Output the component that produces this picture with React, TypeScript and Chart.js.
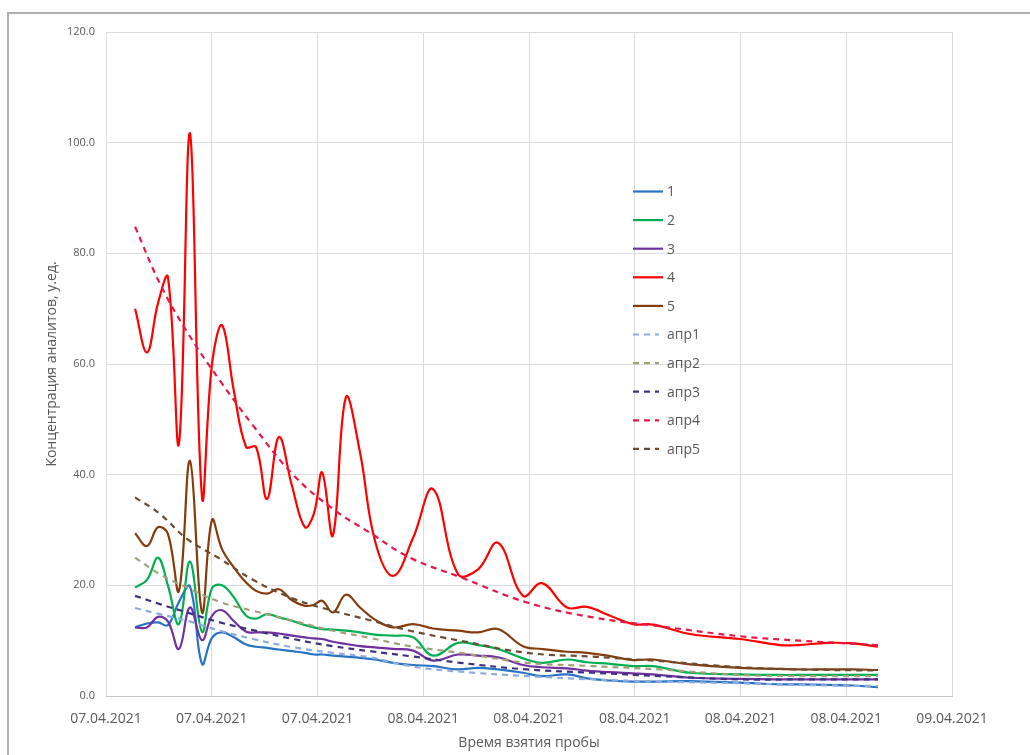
import React, { useEffect, useRef } from 'react';
import { Chart, registerables } from 'chart.js';

Chart.register(...registerables);

// Sample times, hours since 07.04.2021 00:00
const sampleHours = [
  10.92, 11.46, 11.96, 12.41, 12.91, 13.41, 13.96, 14.41, 14.87, 15.41,
  15.96, 16.41, 16.91, 17.45, 18.04, 18.63, 19.04, 19.41, 19.9, 20.49,
  21.13, 21.81, 22.63, 23.54, 24.44, 25.58, 26.49, 27.39, 28.53, 29.39,
  30.53, 31.43, 32.48, 33.52, 34.43, 36.11, 38.38, 40.19, 40.97, 42.33,
  43.51, 44.64,
];

const series1 = [
  12.4, 13.1, 13.3, 12.8, 17.0, 19.8, 5.8, 10.5, 11.5, 10.6,
  9.3, 8.9, 8.7, 8.4, 8.1, 7.8, 7.5, 7.5, 7.3, 7.1,
  6.9, 6.6, 6.0, 5.6, 5.4, 4.8, 5.1, 4.8, 4.2, 3.6,
  3.9, 3.2, 2.8, 2.6, 2.6, 2.7, 2.4, 2.1, 2.1, 2.0,
  1.9, 1.6,
];

const series2 = [
  19.6, 21.0, 25.0, 20.0, 13.0, 24.3, 11.6, 19.5, 20.0, 17.8,
  14.5, 14.0, 14.8, 14.2, 13.6, 12.8, 12.4, 12.1, 12.0, 11.8,
  11.5, 11.1, 10.9, 10.6, 7.3, 9.6, 9.2, 8.5, 6.8, 6.0,
  6.6, 6.1, 5.8, 5.4, 5.4, 4.2, 3.9, 3.8, 3.8, 3.8,
  3.8, 3.8,
];

const series3 = [
  12.4, 12.4, 14.3, 13.5, 8.5, 16.0, 10.1, 14.5, 15.5, 13.5,
  11.6, 11.5, 11.5, 11.3, 10.9, 10.6, 10.4, 10.3, 9.8, 9.4,
  9.0, 8.8, 8.5, 8.2, 6.4, 7.5, 7.3, 7.0, 5.6, 5.2,
  5.0, 4.6, 4.3, 4.1, 3.9, 3.3, 3.1, 3.0, 3.0, 3.0,
  3.0, 3.0,
];

const series4 = [
  70.0, 62.1, 71.0, 75.7, 45.6, 101.7, 35.9, 60.0, 67.0, 55.0,
  45.0, 45.0, 35.6, 46.8, 38.0, 30.5, 33.0, 40.4, 29.0, 54.0,
  44.0, 28.0, 21.7, 28.6, 37.4, 22.0, 22.9, 27.7, 18.1, 20.4,
  16.0, 16.1, 14.5, 13.0, 12.9, 11.2, 10.3, 9.2, 9.2, 9.6,
  9.5, 8.9,
];

const series5 = [
  29.4, 27.1, 30.5, 29.3, 19.0, 42.5, 15.1, 31.8, 26.5, 23.2,
  20.5, 19.0, 18.5, 19.3, 17.3, 16.3, 16.5, 17.2, 15.1, 18.3,
  16.0, 13.8, 12.4, 13.0, 12.2, 11.8, 11.5, 12.1, 9.0, 8.5,
  8.0, 7.8, 7.2, 6.5, 6.6, 5.7, 5.1, 4.9, 4.8, 4.8,
  4.8, 4.7,
];

// Approximation (trend) curves
const fitHours = [
  10.92, 12.05, 13.28, 14.77, 16.27, 18.09, 19.9, 21.58, 23.4, 25.67,
  28.71, 31.71, 34.75, 38.38, 41.1, 44.64,
];
const apr1 = [15.9, 14.8, 13.6, 11.8, 10.3, 8.8, 7.8, 7.0, 5.4, 4.4, 3.6, 3.0, 2.6, 2.3, 2.0, 1.8];
const apr2 = [25.0, 22.0, 19.6, 17.0, 15.4, 13.6, 11.8, 10.5, 9.0, 7.8, 6.0, 5.4, 4.8, 3.8, 3.6, 3.6];
const apr3 = [18.1, 16.6, 15.1, 13.3, 11.9, 10.3, 9.0, 8.1, 7.2, 6.0, 4.8, 4.2, 3.6, 3.0, 3.0, 3.0];
const apr4 = [84.8, 74.5, 65.8, 57.0, 48.9, 40.0, 33.8, 29.5, 25.0, 21.5, 16.9, 14.2, 12.6, 10.8, 10.0, 9.2];
const apr5 = [35.9, 32.9, 28.4, 24.8, 21.0, 17.6, 15.4, 13.7, 11.8, 10.0, 7.8, 7.1, 6.3, 5.2, 4.8, 4.6];

const tickHours = [9.6, 14.4, 19.2, 24, 28.8, 33.6, 38.4, 43.2, 48];
const tickLabels = [
  '07.04.2021', '07.04.2021', '07.04.2021', '08.04.2021', '08.04.2021',
  '08.04.2021', '08.04.2021', '08.04.2021', '09.04.2021',
];
const yTicks = [0, 20, 40, 60, 80, 100, 120];

const seriesNames = ['1', '2', '3', '4', '5'];
const fitNames = ['апр1', 'апр2', 'апр3', 'апр4', 'апр5'];
const yTitle = 'Концентрация аналитов, у.ед.';
const xTitle = 'Время взятия пробы';

const seriesColors = ['#2874c4', '#00b050', '#7030a0', '#ff0000', '#843c0c'];
const fitColors = ['#8faadc', '#a3a07a', '#40307f', '#e8174b', '#6b4c33'];

const FONT = '"Open Sans", "Noto Sans", sans-serif';
const TEXT = '#595959';

const overlayPlugin = {
  id: 'overlay',
  afterDraw(chart: any) {
    const ctx = chart.ctx;
    const area = chart.chartArea;
    ctx.save();
    ctx.fillStyle = TEXT;
    ctx.font = `14px ${FONT}`;
    ctx.textAlign = 'center';
    ctx.textBaseline = 'middle';
    ctx.fillText(xTitle, (area.left + area.right) / 2, 743);
    ctx.save();
    ctx.translate(52, (area.top + area.bottom) / 2);
    ctx.rotate(-Math.PI / 2);
    ctx.fillText(yTitle, 0, 0);
    ctx.restore();

    // legend
    const lx = 633;
    const ly = 191.5;
    const step = 28.6;
    chart.data.datasets.forEach((ds: any, i: number) => {
      const y = ly + i * step;
      ctx.save();
      ctx.strokeStyle = ds.borderColor;
      ctx.lineWidth = 2.2;
      ctx.setLineDash(ds.borderDash || []);
      ctx.beginPath();
      ctx.moveTo(lx, y);
      ctx.lineTo(lx + (ds.borderDash ? 26 : 30), y);
      ctx.stroke();
      ctx.restore();
      ctx.fillStyle = TEXT;
      ctx.textAlign = 'left';
      ctx.textBaseline = 'middle';
      ctx.font = `14px ${FONT}`;
      ctx.fillText(ds.label, lx + 34, y + 1);
    });
    ctx.restore();
  },
};

export default function App() {
  const ref = useRef<HTMLCanvasElement | null>(null);

  useEffect(() => {
    if (!ref.current) return;
    const solid = [series1, series2, series3, series4, series5].map((vals, i) => ({
      label: seriesNames[i],
      data: sampleHours.map((x, j) => ({ x, y: vals[j] })),
      borderColor: seriesColors[i],
      backgroundColor: seriesColors[i],
      borderWidth: 2.2,
      pointRadius: 0,
      tension: 0.4,
      fill: false,
      order: 20 - i,
    }));
    const fits = [apr1, apr2, apr3, apr4, apr5].map((vals, i) => ({
      label: fitNames[i],
      data: fitHours.map((x, j) => ({ x, y: vals[j] })),
      borderColor: fitColors[i],
      backgroundColor: fitColors[i],
      borderWidth: 2.2,
      borderDash: [6, 5],
      pointRadius: 0,
      tension: 0.4,
      fill: false,
      order: 10 - i,
    }));

    const chart = new Chart(ref.current, {
      type: 'line',
      data: { datasets: [...solid, ...fits] as any },
      options: {
        responsive: false,
        animation: false,
        devicePixelRatio: 1,
        layout: { padding: { top: 32, right: 78, left: 0, bottom: 0 } },
        plugins: { legend: { display: false }, tooltip: { enabled: false } },
        scales: {
          x: {
            type: 'linear',
            min: tickHours[0],
            max: tickHours[tickHours.length - 1],
            afterBuildTicks: (scale: any) => {
              scale.ticks = tickHours.map((v) => ({ value: v }));
            },
            afterFit: (scale: any) => {
              scale.height = 59;
            },
            ticks: {
              autoSkip: false,
              maxRotation: 0,
              minRotation: 0,
              padding: 15,
              color: TEXT,
              font: { family: FONT, size: 14 },
              callback: (_v: any, i: number) => tickLabels[i],
            },
            grid: { color: '#dcdcdc', lineWidth: 1, drawTicks: false },
            border: { display: true, color: '#c4c4c4', width: 1 },
          },
          y: {
            type: 'linear',
            min: yTicks[0],
            max: yTicks[yTicks.length - 1],
            afterBuildTicks: (scale: any) => {
              scale.ticks = yTicks.map((v) => ({ value: v }));
            },
            afterFit: (scale: any) => {
              scale.width = 106;
            },
            ticks: {
              padding: 11,
              color: TEXT,
              font: { family: FONT, size: 11 },
              callback: (v: any) => Number(v).toFixed(1),
            },
            grid: { color: '#dcdcdc', lineWidth: 1, drawTicks: false },
            border: { display: false },
          },
        },
      },
      plugins: [overlayPlugin],
    });
    return () => chart.destroy();
  }, []);

  return (
    <div
      style={{
        position: 'absolute',
        left: 0,
        top: 0,
        width: 1030,
        height: 755,
        overflow: 'hidden',
        background: '#fff',
      }}
    >
      <div
        style={{
          position: 'absolute',
          left: 7,
          top: 12,
          width: 1100,
          height: 800,
          borderTop: '2px solid #b0b0b0',
          borderLeft: '2px solid #b0b0b0',
        }}
      />
      <canvas
        ref={ref}
        width={1030}
        height={755}
        style={{ position: 'absolute', left: 0, top: 0 }}
      />
    </div>
  );
}
